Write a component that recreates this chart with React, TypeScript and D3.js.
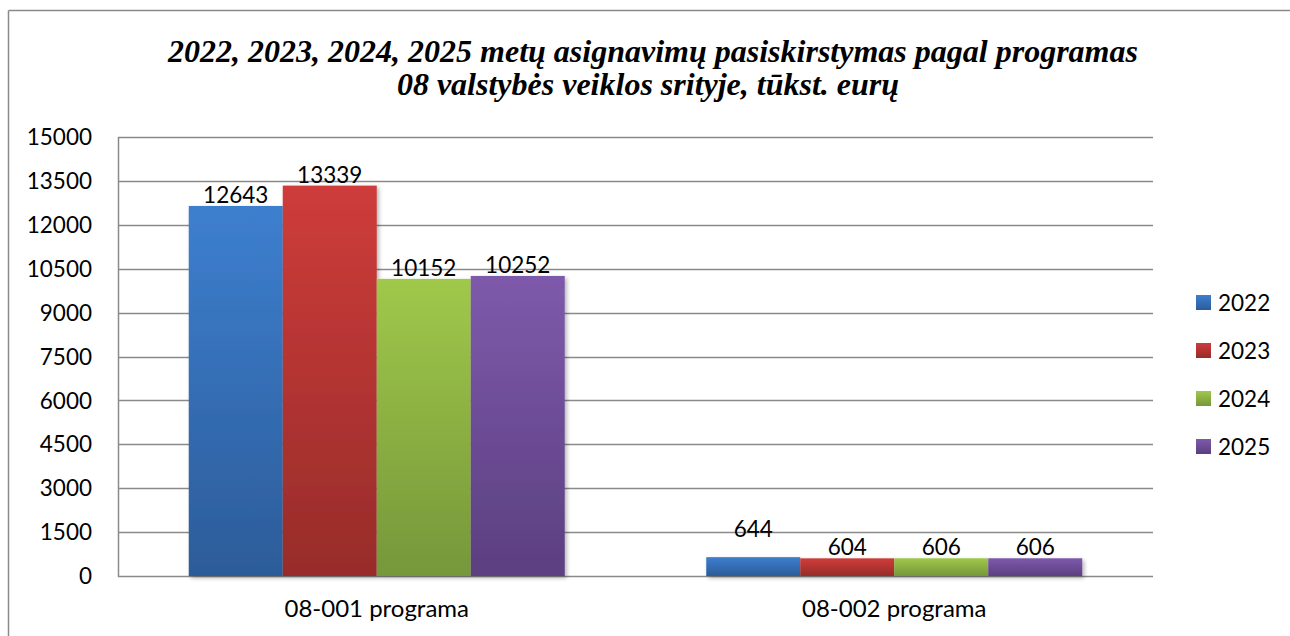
import React from "react";
import * as d3 from "d3";

const categories = ["08-001 programa", "08-002 programa"];
const seriesNames = ["2022", "2023", "2024", "2025"];
const values2022 = [12643, 644];
const values2023 = [13339, 604];
const values2024 = [10152, 606];
const values2025 = [10252, 606];
const yTicks = [0, 1500, 3000, 4500, 6000, 7500, 9000, 10500, 12000, 13500, 15000];
const titleLines = [
  "2022, 2023, 2024, 2025 metų asignavimų pasiskirstymas pagal programas",
  "08 valstybės veiklos srityje, tūkst. eurų",
];

const seriesValues = [values2022, values2023, values2024, values2025];
const colorsTop = ["#3d7fcf", "#ce3c3a", "#a0c84a", "#7e5aab"];
const colorsBottom = ["#2c5c99", "#972c2a", "#76973a", "#5b3f80"];

const W = 1290;
const H = 636;
const plot = { left: 118, right: 1153, top: 137, bottom: 576 };
const font = "Lato, 'Open Sans', sans-serif";

export default function App() {
  const x0 = d3
    .scaleBand<string>()
    .domain(categories)
    .range([plot.left, plot.right])
    .paddingInner(0)
    .paddingOuter(0);
  const x1 = d3
    .scaleBand<string>()
    .domain(seriesNames)
    .range([0, x0.bandwidth()])
    .paddingOuter(0.7527)
    .paddingInner(0);
  const y = d3.scaleLinear().domain([0, 15000]).range([plot.bottom, plot.top]);

  const legendY = d3
    .scalePoint<string>()
    .domain(seriesNames)
    .range([303, 447]);

  return (
    <svg
      width={W}
      height={H}
      style={{ position: "absolute", left: 0, top: 0, background: "#fff" }}
    >
      <defs>
        {seriesNames.map((s, i) => (
          <linearGradient key={s} id={`g${i}`} x1="0" y1="0" x2="0" y2="1">
            <stop offset="0" stopColor={colorsTop[i]} />
            <stop offset="1" stopColor={colorsBottom[i]} />
          </linearGradient>
        ))}
        <filter id="shadow" x="-5%" y="-5%" width="115%" height="115%">
          <feGaussianBlur in="SourceAlpha" stdDeviation="2" />
          <feOffset dx="1.5" dy="2" result="b" />
          <feComponentTransfer>
            <feFuncA type="linear" slope="0.3" />
          </feComponentTransfer>
          <feMerge>
            <feMergeNode />
            <feMergeNode in="SourceGraphic" />
          </feMerge>
        </filter>
      </defs>
      <rect x={0} y={0} width={W} height={H} fill="#fff" />
      {/* outer border */}
      <line x1={8.5} y1={10.5} x2={W} y2={10.5} stroke="#8a8a8a" strokeWidth={1.5} />
      <line x1={8.5} y1={10.5} x2={8.5} y2={H} stroke="#8a8a8a" strokeWidth={1.5} />

      {/* title */}
      <text
        fontFamily="'Liberation Serif', 'Times New Roman', serif"
        fontWeight="bold"
        fontStyle="italic"
        fontSize={32}
        textAnchor="middle"
        fill="#000"
      >
        <tspan x={653} y={62}>
          {titleLines[0]}
        </tspan>
        <tspan x={648} y={95}>
          {titleLines[1]}
        </tspan>
      </text>

      {/* gridlines */}
      {yTicks.map((t) => (
        <line
          key={t}
          x1={plot.left}
          x2={plot.right}
          y1={Math.round(y(t)) + 0.5}
          y2={Math.round(y(t)) + 0.5}
          stroke="#8a8a8a"
          strokeWidth={1.5}
        />
      ))}
      <line
        x1={plot.left + 0.5}
        x2={plot.left + 0.5}
        y1={plot.top}
        y2={plot.bottom + 1}
        stroke="#8a8a8a"
        strokeWidth={1.5}
      />
      {/* y labels */}
      {yTicks.map((t) => (
        <text
          key={t}
          x={92}
          y={y(t)}
          dy="0.36em"
          textAnchor="end"
          fontFamily={font}
          fontSize={22.5}
          fill="#000"
        >
          {t}
        </text>
      ))}

      {/* bars */}
      <g filter="url(#shadow)">
        {categories.map((c, ci) =>
          seriesNames.map((s, si) => {
            const v = seriesValues[si][ci];
            const bx = (x0(c) as number) + (x1(s) as number);
            return (
              <rect
                key={c + s}
                x={bx}
                y={y(v)}
                width={x1.bandwidth()}
                height={y(0) - y(v)}
                fill={`url(#g${si})`}
              />
            );
          })
        )}
      </g>
      {/* value labels */}
      {categories.map((c, ci) =>
        seriesNames.map((s, si) => {
          const v = seriesValues[si][ci];
          const bx = (x0(c) as number) + (x1(s) as number) + x1.bandwidth() / 2;
          const lift = v < 1000 && si === 0 ? 17 : 0;
          return (
            <text
              key={c + s}
              x={bx}
              y={y(v) - 3 - lift}
              textAnchor="middle"
              fontFamily={font}
              fontSize={22.5}
              fill="#000"
            >
              {v}
            </text>
          );
        })
      )}

      {/* category labels */}
      {categories.map((c) => (
        <text
          key={c}
          x={(x0(c) as number) + x0.bandwidth() / 2}
          y={617}
          textAnchor="middle"
          fontFamily={font}
          fontSize={24}
          fill="#000"
        >
          {c}
        </text>
      ))}

      {/* legend */}
      {seriesNames.map((s, i) => (
        <g key={s}>
          <rect
            x={1196}
            y={(legendY(s) as number) - 8}
            width={15}
            height={15}
            fill={`url(#g${i})`}
          />
          <text
            x={1218}
            y={legendY(s) as number}
            dy="0.36em"
            fontFamily={font}
            fontSize={22.5}
            fill="#000"
          >
            {s}
          </text>
        </g>
      ))}
    </svg>
  );
}
